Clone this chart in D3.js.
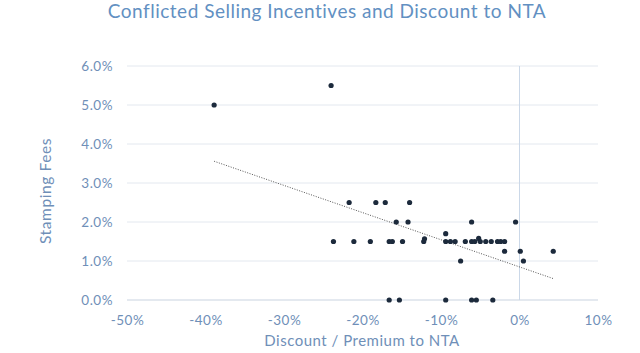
<!DOCTYPE html>
<html>
<head>
<meta charset="utf-8">
<script src="https://cdn.jsdelivr.net/npm/d3@7"></script>
<style>
    body { margin: 0; background: #fff; }
    text { font-family: "Century Gothic", Lato, sans-serif; }
</style>
</head>
<body>
<div id="chart-area"></div>
<script>

// Data (percent)
var discount = [-38.9, -24.0, -23.7, -21.7, -21.1, -19.0, -18.3, -17.1, -16.6, -16.6,
    -16.2, -15.7, -15.3, -14.9, -14.2, -14.0, -12.2, -12.1, -9.4, -9.4,
    -9.4, -8.8, -8.2, -7.5, -6.9, -6.1, -6.1, -6.1, -5.7, -5.5,
    -5.2, -5.0, -4.3, -3.6, -3.4, -2.8, -2.4, -1.9, -1.9, -0.5,
    0.1, 0.5, 4.3];
var fees = [5.0, 5.5, 1.5, 2.5, 1.5, 1.5, 2.5, 2.5, 1.5, 0.0,
    1.5, 2.0, 0.0, 1.5, 2.0, 2.5, 1.5, 1.57, 1.7, 1.5,
    0.0, 1.5, 1.5, 1.0, 1.5, 2.0, 1.5, 0.0, 1.5, 0.0,
    1.58, 1.5, 1.5, 1.5, 0.0, 1.5, 1.5, 1.5, 1.25, 2.0,
    1.25, 1.0, 1.25];
var xTicks = [-50, -40, -30, -20, -10, 0, 10];
var yTicks = [0, 1, 2, 3, 4, 5, 6];

var points = discount.map(function(d, i) { return {x: d, y: fees[i]}; });

// SVG drawing area
var margin = {top: 66, right: 42, bottom: 53, left: 127};
var width = 640 - margin.left - margin.right,
    height = 353 - margin.top - margin.bottom;

var root = d3.select("#chart-area").append("svg")
    .attr("width", 640)
    .attr("height", 353);

var svg = root.append("g")
    .attr("transform", "translate(" + margin.left + "," + margin.top + ")");

// Scales
var x = d3.scaleLinear().domain([-50, 10]).range([0, width]);
var y = d3.scaleLinear().domain([0, 6]).range([height, 0]);

// Gridlines
svg.selectAll(".grid")
    .data(yTicks)
    .enter().append("line")
    .attr("x1", 0)
    .attr("x2", width)
    .attr("y1", function(d) { return y(d); })
    .attr("y2", function(d) { return y(d); })
    .attr("stroke", function(d) { return d === 0 ? "#c9d3e0" : "#e3e8ef"; })
    .attr("stroke-width", 1);

// vertical axis line at 0%
svg.append("line")
    .attr("x1", x(0)).attr("x2", x(0))
    .attr("y1", 0).attr("y2", height)
    .attr("stroke", "#cbd8e8")
    .attr("stroke-width", 1);

// Axis labels
var yAxis = d3.axisLeft(y)
    .tickValues(yTicks)
    .tickSize(0)
    .tickPadding(14)
    .tickFormat(function(d) { return d.toFixed(1) + "%"; });

var xAxis = d3.axisBottom(x)
    .tickValues(xTicks)
    .tickSize(0)
    .tickPadding(15)
    .tickFormat(function(d) { return d + "%"; });

var yAxisGroup = svg.append("g").call(yAxis);
var xAxisGroup = svg.append("g")
    .attr("transform", "translate(0," + height + ")")
    .call(xAxis);

[yAxisGroup, xAxisGroup].forEach(function(g) {
    g.select(".domain").remove();
    g.selectAll("text")
        .attr("fill", "#6f8fb8")
        .style("font-size", "13.5px")
        .style("letter-spacing", "0.5px");
});

// Trendline (least squares)
var mx = d3.mean(points, function(d) { return d.x; }),
    my = d3.mean(points, function(d) { return d.y; });
var slope = d3.sum(points, function(d) { return (d.x - mx) * (d.y - my); }) /
    d3.sum(points, function(d) { return (d.x - mx) * (d.x - mx); });
var intercept = my - slope * mx;
var xExt = d3.extent(discount);

svg.append("line")
    .attr("x1", x(xExt[0]))
    .attr("y1", y(intercept + slope * xExt[0]))
    .attr("x2", x(xExt[1]))
    .attr("y2", y(intercept + slope * xExt[1]))
    .attr("stroke", "#555")
    .attr("stroke-width", 1)
    .attr("stroke-dasharray", "1,1.5");

// Dots
svg.selectAll(".dot")
    .data(points)
    .enter().append("circle")
    .attr("class", "dot")
    .attr("cx", function(d) { return x(d.x); })
    .attr("cy", function(d) { return y(d.y); })
    .attr("r", 2.6)
    .attr("fill", "#1c2a3c");

// Titles
root.append("text")
    .attr("x", 327)
    .attr("y", 18)
    .attr("text-anchor", "middle")
    .attr("fill", "#6290c2")
    .style("font-size", "19px")
    .style("letter-spacing", "0.5px")
    .text("Conflicted Selling Incentives and Discount to NTA");

root.append("text")
    .attr("x", 362)
    .attr("y", 346)
    .attr("text-anchor", "middle")
    .attr("fill", "#6f8fb8")
    .style("font-size", "15px")
    .style("letter-spacing", "0.5px")
    .text("Discount / Premium to NTA");

root.append("text")
    .attr("transform", "translate(51,191) rotate(-90)")
    .attr("text-anchor", "middle")
    .attr("fill", "#6f8fb8")
    .style("font-size", "15.5px")
    .style("letter-spacing", "0.6px")
    .text("Stamping Fees");

</script>
</body>
</html>
